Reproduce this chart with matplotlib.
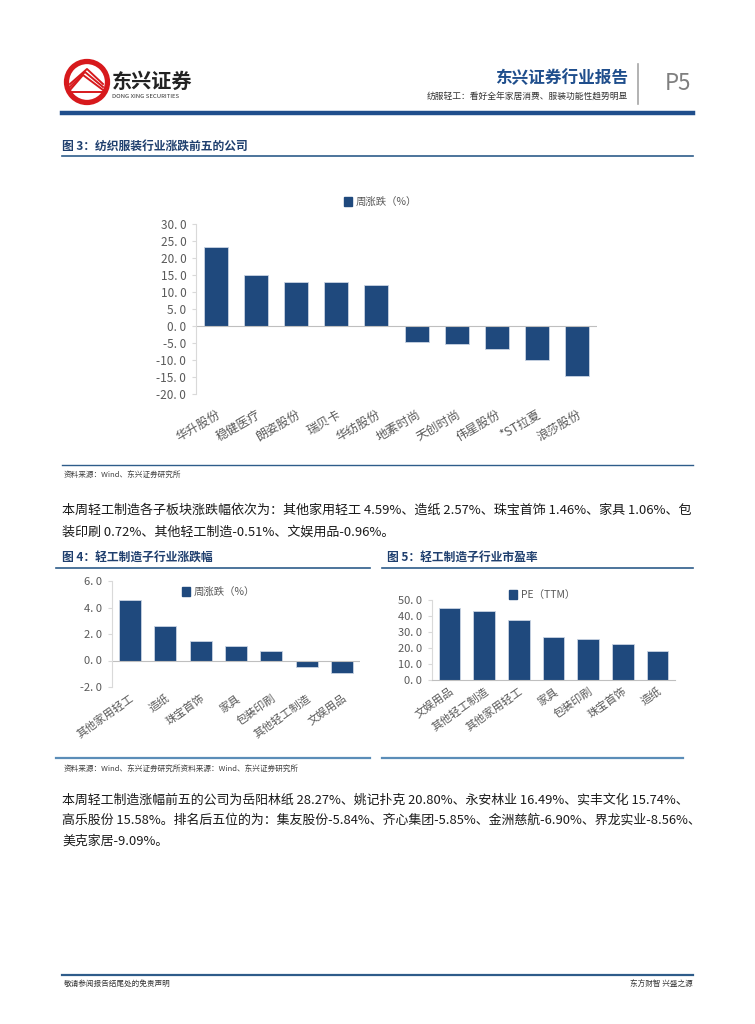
import matplotlib.pyplot as plt
from matplotlib.patches import Circle, Patch
from matplotlib.lines import Line2D

plt.rcParams['font.family'] = ['Noto Sans CJK SC', 'DejaVu Sans']

# chart 3 data
cos3 = ['华升股份', '稳健医疗', '朗姿股份', '瑞贝卡', '华纺股份',
        '地素时尚', '天创时尚', '伟星股份', '*ST拉夏', '浪莎股份']
chg3 = [23.2, 15.0, 12.8, 12.8, 12.0, -4.8, -5.3, -6.8, -9.9, -14.6]
# chart 4 data
sub4 = ['其他家用轻工', '造纸', '珠宝首饰', '家具', '包装印刷', '其他轻工制造', '文娱用品']
chg4 = [4.59, 2.57, 1.46, 1.06, 0.72, -0.51, -0.96]
# chart 5 data
sub5 = ['文娱用品', '其他轻工制造', '其他家用轻工', '家具', '包装印刷', '珠宝首饰', '造纸']
pe5 = [44.8, 42.9, 37.7, 26.9, 25.8, 22.3, 18.1]

W, H = 755, 1024
BAR = '#1F497D'
BLUE = '#1F4E8C'
GREY = '#595959'

fig = plt.figure(figsize=(W / 100, H / 100), dpi=100)
fig.patch.set_facecolor('white')


def fx(x):
    return x / W


def fy(y):
    return 1 - y / H


def txt(x, y, s, **kw):
    fig.text(fx(x), fy(y), s, **kw)


def hline(x0, x1, y, color, lw):
    fig.add_artist(Line2D([fx(x0), fx(x1)], [fy(y), fy(y)], color=color, lw=lw,
                          transform=fig.transFigure))


def make_axes(left, right, top, bottom):
    return fig.add_axes([fx(left), fy(bottom), fx(right - left), (bottom - top) / H])


# header logo (drawn in inches so the circle stays round)
inch = fig.dpi_scale_trans
fig.add_artist(Circle((0.87, (H - 82) / 100), 0.205, transform=inch, facecolor='white',
                      edgecolor='#D7191C', lw=3.8))
for k in range(3):
    fig.add_artist(Line2D([0.70, 0.83 + 0.02 * k, 1.03],
                          [(H - 90 + 3 * k) / 100, (H - 75 + 3 * k) / 100,
                           (H - 90 + 3 * k) / 100],
                          color='#D7191C', lw=1.4, transform=inch))
fig.add_artist(Line2D([0.68, 1.06], [(H - 92) / 100, (H - 92) / 100], color='#D7191C',
                      lw=1.4, transform=inch))
txt(112, 81, '东兴证券', fontsize=14.5, fontweight='bold', color='#222222', va='center')
txt(112, 97, 'DONG XING SECURITIES', fontsize=4.3, color='#333333', va='center')
txt(628, 78, '东兴证券行业报告', fontsize=12, fontweight='bold', color=BLUE,
    ha='right', va='center')
txt(628, 97, '纺服轻工：看好全年家居消费、服装功能性趋势明显', fontsize=6.3,
    color='#333333', ha='right', va='center')
fig.add_artist(Line2D([fx(638), fx(638)], [fy(64), fy(104)], color='#A6A6A6', lw=1.2,
                      transform=fig.transFigure))
txt(665, 83, 'P5', fontsize=16, color='#7F7F7F', va='center')
hline(62, 693, 113, BLUE, 3.2)

# figure 3 title
txt(62, 146, '图 3：纺织服装行业涨跌前五的公司', fontsize=8.5, fontweight='bold',
    color='#1F3F6E', va='center')
hline(62, 693, 156, '#2E5C8A', 1.2)


def style_axes(ax, ylo, yhi, step, fs):
    ax.set_ylim(ylo, yhi)
    ticks = [ylo + step * i for i in range(int(round((yhi - ylo) / step)) + 1)]
    ax.set_yticks(ticks)
    ax.set_yticklabels([f'{t:.1f}'.replace('.', '. ') for t in ticks], fontsize=fs,
                       color=GREY)
    for s in ['top', 'right', 'bottom']:
        ax.spines[s].set_visible(False)
    ax.spines['left'].set_color('#D9D9D9')
    ax.tick_params(axis='y', length=3, color='#D9D9D9', pad=4)
    ax.tick_params(axis='x', length=0, pad=4)
    ax.set_facecolor('none')


# chart 3
ax1 = make_axes(196, 597, 224, 394)
ax1.bar(range(len(cos3)), chg3, width=0.6, color=BAR, edgecolor='#C9D4E3', lw=0.6)
ax1.set_xlim(-0.5, len(cos3) - 0.5)
style_axes(ax1, -20, 30, 5, 8.5)
ax1.tick_params(axis='x', pad=10)
ax1.axhline(0, color='#BFBFBF', lw=0.8)
ax1.set_xticks(range(len(cos3)))
ax1.set_xticklabels(cos3, rotation=30, ha='right', rotation_mode='anchor', fontsize=8.8,
                    color=GREY)
ax1.legend(handles=[Patch(color=BAR)], labels=['周涨跌（%）'], frameon=False,
           fontsize=7.5, handlelength=0.7, handleheight=0.9, handletextpad=0.4,
           loc='center left', bbox_to_anchor=(fx(335), fy(202)),
           bbox_transform=fig.transFigure, labelcolor=GREY)

hline(62, 693, 465, '#2E5C8A', 1.0)
txt(64, 475, '资料来源：Wind、东兴证券研究所', fontsize=5.5, style='italic',
    color='#404040', va='center')

# paragraph 1
para1 = ['本周轻工制造各子板块涨跌幅依次为：其他家用轻工 4.59%、造纸 2.57%、珠宝首饰 1.46%、家具 1.06%、包',
         '装印刷 0.72%、其他轻工制造-0.51%、文娱用品-0.96%。']
for i, line in enumerate(para1):
    txt(62, 510 + 22 * i, line, fontsize=9.4, color='#1A1A1A', va='center')

# figure 4/5 titles
txt(62, 557, '图 4：轻工制造子行业涨跌幅', fontsize=8.5, fontweight='bold',
    color='#1F3F6E', va='center')
txt(387, 557, '图 5：轻工制造子行业市盈率', fontsize=8.5, fontweight='bold',
    color='#1F3F6E', va='center')
hline(56, 370, 568, '#2E5C8A', 1.2)
hline(382, 693, 568, '#2E5C8A', 1.2)

# chart 4
ax4 = make_axes(112, 360, 581, 687)
ax4.bar(range(len(sub4)), chg4, width=0.62, color=BAR, edgecolor='#C9D4E3', lw=0.6)
ax4.set_xlim(-0.5, len(sub4) - 0.5)
style_axes(ax4, -2, 6, 2, 8)
ax4.axhline(0, color='#BFBFBF', lw=0.8)
ax4.set_xticks(range(len(sub4)))
ax4.set_xticklabels(sub4, rotation=35, ha='right', rotation_mode='anchor', fontsize=8,
                    color=GREY)
ax4.legend(handles=[Patch(color=BAR)], labels=['周涨跌（%）'], frameon=False,
           fontsize=7.5, handlelength=0.7, handleheight=0.9, handletextpad=0.4,
           loc='center left', bbox_to_anchor=(fx(173), fy(592)),
           bbox_transform=fig.transFigure, labelcolor=GREY)

# chart 5
ax5 = make_axes(432, 675, 600, 680)
ax5.bar(range(len(sub5)), pe5, width=0.62, color=BAR, edgecolor='#C9D4E3', lw=0.6)
ax5.set_xlim(-0.5, len(sub5) - 0.5)
style_axes(ax5, 0, 50, 10, 8)
ax5.spines['bottom'].set_visible(True)
ax5.spines['bottom'].set_color('#BFBFBF')
ax5.set_xticks(range(len(sub5)))
ax5.set_xticklabels(sub5, rotation=35, ha='right', rotation_mode='anchor', fontsize=8,
                    color=GREY)
ax5.legend(handles=[Patch(color=BAR)], labels=['PE（TTM）'], frameon=False,
           fontsize=7.5, handlelength=0.7, handleheight=0.9, handletextpad=0.4,
           loc='center left', bbox_to_anchor=(fx(500), fy(595)),
           bbox_transform=fig.transFigure, labelcolor=GREY)

hline(56, 370, 758, '#5B8DB8', 1.6)
hline(382, 683, 758, '#5B8DB8', 1.6)
txt(64, 769, '资料来源：Wind、东兴证券研究所资料来源：Wind、东兴证券研究所', fontsize=5.5,
    style='italic', color='#404040', va='center')

# paragraph 2
para2 = ['本周轻工制造涨幅前五的公司为岳阳林纸 28.27%、姚记扑克 20.80%、永安林业 16.49%、实丰文化 15.74%、',
         '高乐股份 15.58%。排名后五位的为：集友股份-5.84%、齐心集团-5.85%、金洲慈航-6.90%、界龙实业-8.56%、',
         '美克家居-9.09%。']
for i, line in enumerate(para2):
    txt(62, 800 + 20.5 * i, line, fontsize=9.3, color='#1A1A1A', va='center')

# footer
hline(62, 693, 975, '#2E5C8A', 1.6)
txt(64, 984, '敬请参阅报告结尾处的免责声明', fontsize=5.5, color='#333333', va='center')
txt(693, 984, '东方财智 兴盛之源', fontsize=5.5, color='#333333', ha='right', va='center')

fig.savefig('out.png', dpi=100)
